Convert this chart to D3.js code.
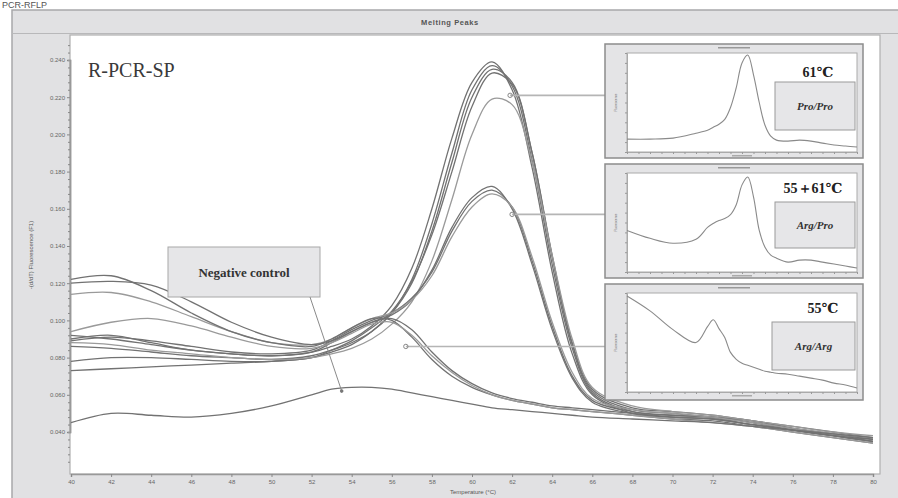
<!DOCTYPE html>
<html><head><meta charset="utf-8">
<script src="https://cdn.jsdelivr.net/npm/d3@7"></script>
<style>body{margin:0;background:#fff;}svg{display:block;}</style>
</head><body><svg id="c" width="898" height="498"></svg>
<script>
// ---------- DATA ----------
const temps = [40,42,44,46,48,50,52,53,54,55,56,57,58,59,60,61,62,63,64,65,66,68,70,72,74,76,78,80];
const proPro1 = [0.090,0.092,0.088,0.084,0.082,0.081,0.083,0.086,0.090,0.097,0.108,0.128,0.160,0.198,0.228,0.239,0.224,0.182,0.126,0.082,0.060,0.050,0.048,0.047,0.044,0.041,0.038,0.036];
const proPro2 = [0.078,0.080,0.080,0.079,0.078,0.078,0.080,0.083,0.087,0.094,0.104,0.122,0.152,0.190,0.224,0.237,0.226,0.186,0.130,0.085,0.061,0.051,0.049,0.048,0.045,0.041,0.038,0.035];
const proPro3 = [0.086,0.085,0.083,0.081,0.080,0.079,0.081,0.084,0.088,0.094,0.104,0.120,0.148,0.185,0.220,0.235,0.228,0.190,0.134,0.087,0.062,0.052,0.050,0.048,0.046,0.042,0.039,0.036];
const proPro4 = [0.073,0.074,0.075,0.076,0.077,0.078,0.080,0.084,0.089,0.096,0.105,0.121,0.146,0.180,0.215,0.233,0.227,0.190,0.135,0.088,0.063,0.053,0.051,0.049,0.046,0.043,0.040,0.037];
const proPro5 = [0.088,0.087,0.084,0.082,0.080,0.079,0.080,0.082,0.085,0.090,0.098,0.110,0.132,0.165,0.200,0.219,0.216,0.185,0.135,0.090,0.064,0.054,0.051,0.049,0.046,0.043,0.040,0.038];
const argPro1 = [0.092,0.090,0.087,0.084,0.082,0.081,0.083,0.088,0.094,0.099,0.103,0.111,0.127,0.150,0.166,0.172,0.160,0.130,0.095,0.069,0.056,0.050,0.048,0.047,0.044,0.041,0.038,0.035];
const argPro2 = [0.089,0.091,0.089,0.086,0.083,0.082,0.084,0.089,0.095,0.100,0.104,0.112,0.126,0.148,0.164,0.170,0.161,0.132,0.097,0.070,0.057,0.051,0.049,0.048,0.045,0.042,0.039,0.036];
const argPro3 = [0.114,0.115,0.110,0.102,0.094,0.088,0.087,0.090,0.096,0.101,0.104,0.111,0.124,0.145,0.161,0.168,0.161,0.134,0.099,0.072,0.058,0.052,0.050,0.048,0.045,0.042,0.039,0.037];
const argArg1 = [0.122,0.124,0.116,0.104,0.094,0.088,0.086,0.090,0.096,0.101,0.100,0.091,0.079,0.070,0.064,0.060,0.057,0.055,0.053,0.052,0.051,0.049,0.047,0.046,0.043,0.040,0.037,0.034];
const argArg2 = [0.120,0.121,0.119,0.110,0.099,0.091,0.087,0.089,0.094,0.099,0.101,0.095,0.083,0.073,0.066,0.061,0.058,0.056,0.054,0.053,0.052,0.050,0.048,0.047,0.044,0.041,0.038,0.035];
const argArg3 = [0.094,0.099,0.101,0.097,0.091,0.086,0.085,0.088,0.093,0.098,0.099,0.092,0.081,0.072,0.065,0.060,0.057,0.055,0.053,0.052,0.051,0.049,0.047,0.045,0.043,0.040,0.037,0.034];
const negative = [0.045,0.050,0.049,0.048,0.050,0.054,0.060,0.063,0.064,0.064,0.063,0.061,0.059,0.057,0.055,0.053,0.052,0.051,0.050,0.049,0.048,0.047,0.046,0.045,0.043,0.041,0.039,0.037];
const mainSeries = [proPro1,proPro2,proPro3,proPro4,proPro5,argPro1,argPro2,argPro3,argArg1,argArg2,argArg3,negative];
const lightSeries = [4,7,10]; // indices drawn lighter

const insetTemps = [40,44,48,52,54,55,56,57,58,59,60,61,62,63,64,65,66,68,70,72,74,76,78,80];
const insetProPro = [0.13,0.13,0.14,0.19,0.22,0.25,0.28,0.33,0.45,0.65,0.90,0.98,0.78,0.50,0.27,0.16,0.12,0.11,0.12,0.11,0.09,0.07,0.06,0.05];
const insetArgPro = [0.42,0.34,0.29,0.33,0.45,0.49,0.52,0.54,0.58,0.68,0.88,0.96,0.76,0.42,0.25,0.17,0.14,0.10,0.12,0.12,0.10,0.08,0.06,0.04];
const insetArgArg = [0.97,0.82,0.63,0.50,0.66,0.73,0.64,0.55,0.40,0.33,0.29,0.27,0.25,0.23,0.21,0.20,0.19,0.18,0.16,0.14,0.12,0.09,0.07,0.04];
const insetTempLabels = ["61℃","55＋61℃","55℃"];
const insetGenoLabels = ["Pro/Pro","Arg/Pro","Arg/Arg"];

const yTicks = [0.040,0.060,0.080,0.100,0.120,0.140,0.160,0.180,0.200,0.220,0.240];
const yMinor = [0.024,0.028,0.032,0.036,0.044,0.048,0.052,0.056,0.064,0.068,0.072,0.076,0.084,0.088,0.092,0.096,0.104,0.108,0.112,0.116,0.124,0.128,0.132,0.136,0.144,0.148,0.152,0.156,0.164,0.168,0.172,0.176,0.184,0.188,0.192,0.196,0.204,0.208,0.212,0.216,0.224,0.228,0.232,0.236,0.244,0.248];
const xTicks = [40,42,44,46,48,50,52,54,56,58,60,62,64,66,68,70,72,74,76,78,80];
// annotation anchors (temperature, value)
const pointers = [[61.9,0.221],[62.0,0.157],[56.7,0.086]];
const negPointer = [53.5,0.062];

// ---------- DRAW ----------
const svg = d3.select("#c");
const serif = "'Liberation Serif','DejaVu Serif',serif";
const sans = "'Liberation Sans',Arial,sans-serif";

// caption at top
svg.append("text").attr("x",2).attr("y",8).attr("font-family",sans).attr("font-size",9).attr("fill","#555").text("PCR-RFLP");

// window frame
svg.append("rect").attr("x",12).attr("y",10).attr("width",890).attr("height",492).attr("fill","#e1e1e3").attr("stroke","#a8a8aa").attr("stroke-width",1.5);
svg.append("line").attr("x1",12).attr("x2",898).attr("y1",33.5).attr("y2",33.5).attr("stroke","#b8b8ba").attr("stroke-width",1);
svg.append("text").attr("x",450).attr("y",25).attr("text-anchor","middle").attr("font-family",sans).attr("font-weight","bold").attr("font-size",7.5).attr("letter-spacing",0.6).attr("fill","#555").text("Melting Peaks");

const x = d3.scaleLinear().domain([40,80]).range([71,873]);
const y = d3.scaleLinear().domain([0.040,0.240]).range([432,60]);
const L=70, T=35, R=880, B=474;
svg.append("rect").attr("x",L).attr("y",T).attr("width",R-L).attr("height",B-T).attr("fill","#fff").attr("stroke","#b0b0b0").attr("stroke-width",1.2);

const yAx = svg.append("g").attr("transform",`translate(${L},0)`).call(d3.axisLeft(y).tickValues(yTicks).tickSize(3).tickFormat(d3.format(".3f")));
const yAx2 = svg.append("g").attr("transform",`translate(${L},0)`).call(d3.axisLeft(y).tickValues(yMinor.filter(v=>y(v)>T&&y(v)<B)).tickSize(2).tickFormat(""));
const xAx = svg.append("g").attr("transform",`translate(0,${B})`).call(d3.axisBottom(x).tickValues(xTicks).tickSize(3).tickFormat(d3.format("d")));
[yAx,yAx2,xAx].forEach(g=>{g.select(".domain").attr("stroke","#999").attr("stroke-width",1.5);g.selectAll(".tick line").attr("stroke","#888");g.selectAll("text").attr("fill","#666").attr("font-family",sans).attr("font-size",6);});
yAx.selectAll("text").attr("x",-5);
xAx.selectAll("text").attr("y",6);

svg.append("text").attr("transform","translate(33,255) rotate(-90)").attr("text-anchor","middle").attr("font-family",sans).attr("font-size",6).attr("fill","#555").text("-(d/dT) Fluorescence (F1)");
svg.append("text").attr("x",473).attr("y",494).attr("text-anchor","middle").attr("font-family",sans).attr("font-size",6).attr("fill","#555").text("Temperature (°C)");

const line = d3.line().x((d,i)=>x(temps[i])).y(d=>y(d)).curve(d3.curveCatmullRom.alpha(0.5));
svg.append("clipPath").attr("id","pc").append("rect").attr("x",L).attr("y",T).attr("width",R-L).attr("height",B-T);
svg.append("g").attr("clip-path","url(#pc)").selectAll("path").data(mainSeries).join("path")
  .attr("d",line).attr("fill","none")
  .attr("stroke",(d,i)=>lightSeries.includes(i)?"#9a9a9a":"#727272")
  .attr("stroke-width",1.3);

svg.append("text").attr("x",88).attr("y",77).attr("font-family",serif).attr("font-size",20).attr("fill","#3a3a3a").text("R-PCR-SP");

// negative control label
svg.append("rect").attr("x",168).attr("y",247).attr("width",152).attr("height",50).attr("fill","#e6e6e8").attr("stroke","#a8a8a8").attr("stroke-width",1);
svg.append("text").attr("x",244).attr("y",277).attr("text-anchor","middle").attr("font-family",serif).attr("font-weight","bold").attr("font-size",13).attr("fill","#333").text("Negative control");
svg.append("line").attr("x1",310).attr("y1",297).attr("x2",x(negPointer[0])).attr("y2",y(negPointer[1])).attr("stroke","#8a8a8a").attr("stroke-width",1);
svg.append("circle").attr("cx",x(negPointer[0])).attr("cy",y(negPointer[1])).attr("r",1.8).attr("fill","#777");

// insets
const panels = [
  {o:[605,44,863,158], i:[627,53,857,152], lb:[775,82,855,130], tl:[818,77], data:insetProPro},
  {o:[605,164,863,278], i:[627,173,857,272], lb:[775,202,855,248], tl:[813,193], data:insetArgPro},
  {o:[605,284,863,400], i:[627,293,857,392], lb:[772,322,855,370], tl:[823,313], data:insetArgArg}
];
panels.forEach((p,k)=>{
  const [px,py] = pointers[k];
  svg.append("line").attr("x1",x(px)).attr("y1",y(py)).attr("x2",p.o[0]).attr("y2",y(py)).attr("stroke","#b5b5b5").attr("stroke-width",1.6);
  svg.append("circle").attr("cx",x(px)).attr("cy",y(py)).attr("r",2.2).attr("fill","none").attr("stroke","#888").attr("stroke-width",1);
  const g = svg.append("g");
  g.append("rect").attr("x",p.o[0]).attr("y",p.o[1]).attr("width",p.o[2]-p.o[0]).attr("height",p.o[3]-p.o[1]).attr("fill","#e4e4e6").attr("stroke","#8c8c8c").attr("stroke-width",1.5);
  g.append("rect").attr("x",(p.o[0]+p.o[2])/2-16).attr("y",p.o[1]+3).attr("width",32).attr("height",1.5).attr("fill","#999");
  g.append("rect").attr("x",p.i[0]).attr("y",p.i[1]).attr("width",p.i[2]-p.i[0]).attr("height",p.i[3]-p.i[1]).attr("fill","#fff").attr("stroke","#aaa").attr("stroke-width",1);
  const ix = d3.scaleLinear().domain([40,80]).range([p.i[0],p.i[2]]);
  const iy = d3.scaleLinear().domain([0,1]).range([p.i[3],p.i[1]]);
  const ax1 = g.append("g").attr("transform",`translate(${p.i[0]},0)`).call(d3.axisLeft(iy).ticks(14).tickSize(2).tickFormat(""));
  const ax2 = g.append("g").attr("transform",`translate(0,${p.i[3]})`).call(d3.axisBottom(ix).ticks(20).tickSize(2).tickFormat(""));
  [ax1,ax2].forEach(a=>{a.select(".domain").attr("stroke","#aaa");a.selectAll(".tick line").attr("stroke","#999");});
  g.append("text").attr("transform",`translate(${p.o[0]+12},${(p.i[1]+p.i[3])/2}) rotate(-90)`).attr("text-anchor","middle").attr("font-size",3).attr("fill","#777").attr("font-family",sans).text("Fluorescence");
  g.append("rect").attr("x",(p.i[0]+p.i[2])/2-10).attr("y",p.i[3]+3).attr("width",20).attr("height",1.5).attr("fill","#aaa");
  const il = d3.line().x((d,i)=>ix(insetTemps[i])).y(d=>iy(d)).curve(d3.curveCatmullRom.alpha(0.5));
  g.append("path").attr("d",il(p.data)).attr("fill","none").attr("stroke","#8a8a8a").attr("stroke-width",1.1);
  g.append("rect").attr("x",p.lb[0]).attr("y",p.lb[1]).attr("width",p.lb[2]-p.lb[0]).attr("height",p.lb[3]-p.lb[1]).attr("fill","#e6e6e8").attr("stroke","#9a9a9a").attr("stroke-width",1);
  g.append("text").attr("x",(p.lb[0]+p.lb[2])/2).attr("y",(p.lb[1]+p.lb[3])/2+4).attr("text-anchor","middle").attr("font-family",serif).attr("font-style","italic").attr("font-weight","bold").attr("font-size",11).attr("fill","#333").text(insetGenoLabels[k]);
  g.append("text").attr("x",p.tl[0]).attr("y",p.tl[1]).attr("text-anchor","middle").attr("font-family",serif).attr("font-weight","bold").attr("font-size",14).attr("fill","#222").text(insetTempLabels[k]);
});
</script></body></html>
